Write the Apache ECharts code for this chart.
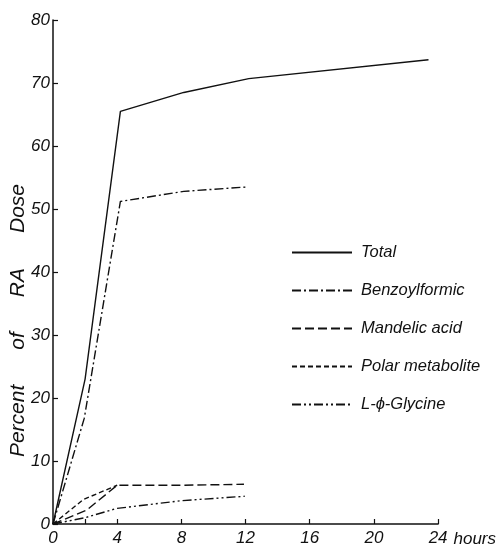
<!DOCTYPE html>
<html><head><meta charset="utf-8">
<script src="https://cdn.jsdelivr.net/npm/echarts@6/dist/echarts.min.js"></script>
<style>html,body{margin:0;padding:0;background:#fff}#c{width:499px;height:548px}</style>
</head><body><div id="c"></div>
<script>
// Data (hours, percent of RA dose)
const totalX = [0, 2, 4.2, 8.15, 12.2, 23.4];
const totalY = [0, 23, 65.5, 68.5, 70.7, 73.7];
const benzX = [0, 1.95, 4.2, 8.15, 12.1];
const benzY = [0, 16.8, 51.2, 52.8, 53.5];
const mandX = [0, 2.1, 4.0, 8.0, 11.9];
const mandY = [0, 2.2, 6.15, 6.15, 6.3];
const polarX = [0, 1.9, 4.0];
const polarY = [0, 3.9, 6.15];
const glyX = [0, 2, 3.95, 8, 11.95];
const glyY = [0, 1.0, 2.46, 3.7, 4.4];
const seriesNames = ['Total', 'Benzoylformic', 'Mandelic acid', 'Polar metabolite', 'L-\u03d5-Glycine'];
const xTicks = [0, 2, 4, 8, 12, 16, 20, 24];
const xLabels = [0, 4, 8, 12, 16, 20, 24];

const pairs = (xs, ys) => xs.map((x, i) => [x, ys[i]]);
const font = 'Liberation Sans';
const ink = '#111';
function mk(name, xs, ys, type) {
  return {
    name, type: 'line', data: pairs(xs, ys), symbol: 'none', showSymbol: false, smooth: false,
    lineStyle: { color: ink, width: 1.4, type: type },
    itemStyle: { color: ink }
  };
}
const chart = echarts.init(document.getElementById('c'), null, { renderer: 'canvas' });
chart.setOption({
  animation: false,
  backgroundColor: '#fff',
  grid: { left: 53, right: 58, top: 20, bottom: 21, containLabel: false },
  xAxis: {
    type: 'value', min: 0, max: 24, interval: 4,
    name: 'hours', nameLocation: 'end', nameGap: 14,
    nameTextStyle: { fontFamily: font, fontStyle: 'italic', fontSize: 17, color: ink, verticalAlign: 'top', padding: [7, 0, 0, 0] },
    axisLine: { show: true, lineStyle: { color: ink, width: 1.5 } },
    axisTick: { show: true, inside: true, length: 5, customValues: xTicks, lineStyle: { color: ink, width: 1.2 } },
    axisLabel: { customValues: xLabels, fontFamily: font, fontStyle: 'italic', fontSize: 17, color: ink, margin: 6 },
    splitLine: { show: false }
  },
  yAxis: {
    type: 'value', min: 0, max: 80, interval: 10,
    axisLine: { show: true, lineStyle: { color: ink, width: 1.5 } },
    axisTick: { show: true, inside: true, length: 5, lineStyle: { color: ink, width: 1.2 } },
    axisLabel: { fontFamily: font, fontStyle: 'italic', fontSize: 17, color: ink, margin: 3 },
    splitLine: { show: false }
  },
  legend: {
    show: true,
    orient: 'vertical', left: 291, top: 244, padding: 0,
    itemWidth: 60, itemHeight: 14, itemGap: 21,
    data: seriesNames,
    itemStyle: { opacity: 0, borderWidth: 0 },
    textStyle: { fontFamily: font, fontStyle: 'italic', fontSize: 16.5, color: ink, padding: [0, 0, 0, 4] }
  },
  graphic: [{
    type: 'text', left: 8, top: 184, rotation: Math.PI / 2,
    style: { text: 'Percent      of      RA      Dose', font: 'italic 21px "Liberation Sans"', fill: ink }
  }],
  series: [
    mk(seriesNames[0], totalX, totalY, 'solid'),
    mk(seriesNames[1], benzX, benzY, [9, 3, 2, 3]),
    mk(seriesNames[2], mandX, mandY, [9, 4]),
    mk(seriesNames[3], polarX, polarY, [5, 3]),
    mk(seriesNames[4], glyX, glyY, [9, 3, 2, 3, 2, 3])
  ]
});
</script></body></html>
